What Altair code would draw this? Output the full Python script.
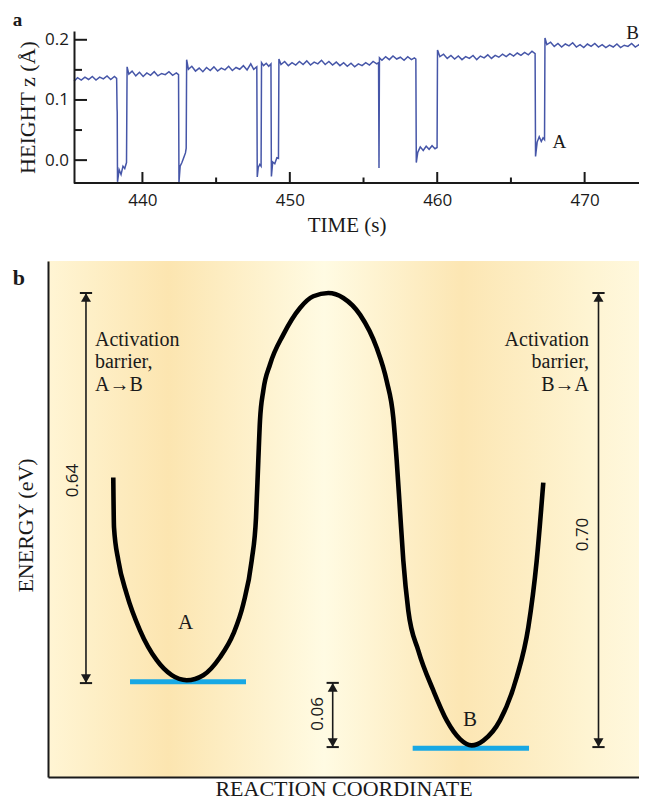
import altair as alt
import pandas as pd

SERIF = "Liberation Serif"
SANS = "Open Sans"
INK = "#1a1a1a"
TRACE_BLUE = "#4656a8"
LEVEL_BLUE = "#18a8e4"

# ---------------- panel a : height trace ----------------
trace_time = [
    435.36, 435.60, 435.85, 436.10, 436.35, 436.60, 436.85, 437.10, 437.35, 437.60, 437.85, 438.10, 438.25,
    438.28, 438.29, 438.31, 438.42, 438.55, 438.68, 438.80, 438.92,
    438.96, 439.08, 439.30, 439.55, 439.80, 440.05, 440.30, 440.55, 440.80, 441.05, 441.30, 441.55, 441.80, 442.05, 442.30, 442.45,
    442.48, 442.56, 442.68, 442.80, 442.92, 442.97,
    443.00, 443.12, 443.35, 443.60, 443.85, 444.10, 444.35, 444.60, 444.85, 445.10, 445.35, 445.60, 445.85, 446.10, 446.35, 446.60, 446.85, 447.10, 447.35, 447.55, 447.76,
    447.79, 447.86, 447.96, 448.05,
    448.08, 448.22, 448.40, 448.57, 448.72,
    448.75, 448.84, 448.98, 449.12, 449.23,
    449.26, 449.40, 449.65, 449.90, 450.15, 450.40, 450.65, 450.90, 451.15, 451.40, 451.65, 451.90, 452.15, 452.40, 452.65, 452.90, 453.15, 453.40, 453.65, 453.90, 454.15, 454.40, 454.65, 454.90, 455.15, 455.40, 455.65, 455.90, 456.02,
    456.05, 456.08,
    456.25, 456.50, 456.75, 457.00, 457.25, 457.50, 457.75, 458.00, 458.25, 458.45, 458.55,
    458.58, 458.68, 458.85, 459.05, 459.25, 459.45, 459.65, 459.85, 459.99,
    460.02, 460.18, 460.43, 460.68, 460.93, 461.18, 461.43, 461.68, 461.93, 462.18, 462.43, 462.68, 462.93, 463.18, 463.43, 463.68, 463.93, 464.18, 464.43, 464.68, 464.93, 465.18, 465.43, 465.68, 465.93, 466.18, 466.43, 466.64,
    466.67, 466.78, 466.92, 467.06, 467.18, 467.28,
    467.31, 467.44, 467.69, 467.94, 468.19, 468.44, 468.69, 468.94, 469.19, 469.44, 469.69, 469.94, 470.19, 470.44, 470.69, 470.94, 471.19, 471.44, 471.69, 471.94, 472.19, 472.44, 472.69, 472.94, 473.19, 473.44, 473.69, 473.94, 474.19, 474.30,
]
trace_height = [
    0.131, 0.137, 0.133, 0.138, 0.134, 0.139, 0.133, 0.138, 0.135, 0.140, 0.134, 0.139, 0.136,
    0.085, 0.080, -0.036, -0.016, -0.024, -0.010, -0.014, -0.004,
    0.155, 0.143, 0.148, 0.140, 0.146, 0.139, 0.145, 0.141, 0.147, 0.140, 0.144, 0.142, 0.147, 0.141, 0.145, 0.142,
    -0.037, -0.010, -0.004, 0.004, 0.012, 0.020,
    0.167, 0.151, 0.156, 0.148, 0.153, 0.147, 0.154, 0.149, 0.155, 0.148, 0.153, 0.150, 0.156, 0.149, 0.154, 0.151, 0.157, 0.150, 0.160, 0.151, 0.155,
    -0.028, -0.012, -0.007, -0.010,
    0.162, 0.157, 0.161, 0.156, 0.160,
    -0.027, -0.003, -0.006, 0.004, 0.003,
    0.168, 0.159, 0.164, 0.157, 0.162, 0.158, 0.164, 0.159, 0.165, 0.158, 0.163, 0.160, 0.166, 0.159, 0.164, 0.158, 0.163, 0.157, 0.162, 0.156, 0.161, 0.155, 0.160, 0.157, 0.162, 0.158, 0.164, 0.160, 0.162,
    -0.013, 0.170,
    0.166, 0.172, 0.167, 0.173, 0.168, 0.171, 0.166, 0.172, 0.167, 0.170, 0.168,
    -0.004, 0.013, 0.022, 0.016, 0.023, 0.018, 0.024, 0.019, 0.021,
    0.183, 0.172, 0.176, 0.169, 0.174, 0.168, 0.173, 0.167, 0.172, 0.169, 0.174, 0.167, 0.173, 0.170, 0.175, 0.169, 0.174, 0.171, 0.176, 0.172, 0.177, 0.173, 0.178, 0.174, 0.179, 0.175, 0.181, 0.177,
    0.006, 0.030, 0.039, 0.031, 0.037, 0.034,
    0.203, 0.192, 0.196, 0.189, 0.194, 0.188, 0.193, 0.190, 0.195, 0.188, 0.192, 0.187, 0.193, 0.189, 0.194, 0.188, 0.192, 0.187, 0.191, 0.188, 0.193, 0.187, 0.191, 0.189, 0.194, 0.188, 0.192, 0.189, 0.193, 0.190,
]
time_major = [440, 450, 460, 470]
time_minor = [445, 455, 465]
height_major = [0.0, 0.1, 0.2]
height_minor = [0.05, 0.15]
time_domain = [433.594, 473.689]
height_domain = [-0.038, 0.2146]
state_labels = ["A", "B"]
state_label_time = [468.28, 473.25]
state_label_height = [0.030, 0.211]

# ---------------- panel b : energy diagram ----------------
rc_domain = [0, 98.5]
energy_domain = [0, 100]
curve_x = [10.88, 11.00, 11.72, 13.12, 15.33, 18.12, 20.62, 23.12, 25.88, 28.67, 30.88, 32.55, 33.95, 34.67,
           35.05, 35.33, 35.88, 37.00, 39.22, 42.00, 44.22, 46.72, 49.22, 52.00, 54.78, 56.45, 57.55, 58.12,
           58.67, 59.22, 60.05, 61.72, 64.22, 66.45, 68.67, 70.62, 72.55, 75.33, 78.12, 80.05, 81.45, 82.55]
curve_y = [58.03, 48.36, 41.97, 35.45, 28.43, 22.63, 19.73, 18.76, 19.73, 23.21, 27.72, 33.52, 41.97, 50.29,
           61.32, 69.05, 74.85, 79.94, 85.74, 90.91, 93.17, 93.81, 92.84, 89.61, 83.17, 76.73, 69.63, 61.26,
           51.59, 41.92, 32.25, 24.51, 16.77, 10.97, 7.35, 6.13, 7.06, 10.97, 19.34, 29.01, 41.92, 57.06]
level_names = ["A", "B"]
level_x0 = [13.67, 60.78]
level_x1 = [33.00, 80.17]
level_y = [18.47, 5.57]
well_label_x = [22.95, 70.33]
well_label_y = [29.85, 10.97]
barrier_x = [6.33, 91.75, 47.45]
barrier_top = [93.8, 93.8, 18.24]
barrier_bottom = [18.2, 5.8, 5.8]
barrier_values = ["0.64", "0.70", "0.06"]
barrier_value_x = [4.12, 89.22, 45.05]
barrier_value_y = [57.45, 47.0, 12.24]
desc_left_lines = ["Activation", "barrier,", "A\u2192B"]
desc_right_lines = ["Activation", "barrier,", "B\u2192A"]
desc_line_y = [83.47, 79.17, 74.86]
desc_left_x = 7.83
desc_right_x = 90.17
bg_stops = [(0.0, "#FFF5D4"), (0.203, "#FCE5B0"), (0.467, "#FFFBE3"), (0.70, "#FCE6B3"), (0.914, "#FEF4D2"), (1.0, "#FFF8DD")]

# ================= panel a =================
xa = alt.Scale(domain=time_domain, nice=False, zero=False)
ya = alt.Scale(domain=height_domain, nice=False, zero=False)

axis_time = alt.Axis(
    values=time_major, format="d", ticks=False, tickSize=0, labelPadding=9,
    labelFont=SANS, labelFontSize=17, labelColor=INK, labelFlush=False,
    domain=False, grid=False, title="TIME (s)", titleFont=SERIF, titleFontSize=21,
    titleFontWeight="normal", titleColor=INK, titlePadding=6, titleX=298.5, zindex=1)
axis_height = alt.Axis(
    values=height_major, format=".1f", ticks=False, tickSize=0, labelPadding=5.5,
    labelFont=SANS, labelFontSize=17, labelColor=INK, domain=True, domainColor=INK,
    domainWidth=2, grid=False, offset=-26, title="HEIGHT z (\u00c5)", titleFont=SERIF,
    titleFontSize=22, titleFontWeight="normal", titleColor=INK, titlePadding=5, zindex=1)

def ax(field):
    return alt.X(field, scale=xa, axis=axis_time)

def ay(field):
    return alt.Y(field, scale=ya, axis=axis_height)

trace_df = pd.DataFrame({"time": trace_time, "height": trace_height})
trace = alt.Chart(trace_df).mark_line(color=TRACE_BLUE, strokeWidth=1.5, clip=True).encode(
    x=ax("time:Q"), y=ay("height:Q"))

base_df = pd.DataFrame({"time": [trace_time[0]], "t1": [time_domain[1]], "height": [height_domain[0]]})
base_line = alt.Chart(base_df).mark_rule(color=INK, strokeWidth=2).encode(
    x=ax("time:Q"), x2="t1:Q", y=ay("height:Q"))

xt_major = alt.Chart(pd.DataFrame({"time": time_major})).mark_rule(color=INK, strokeWidth=2).encode(
    x=ax("time:Q"), y=alt.value(152), y2=alt.value(141))
xt_minor = alt.Chart(pd.DataFrame({"time": time_minor})).mark_rule(color=INK, strokeWidth=2).encode(
    x=ax("time:Q"), y=alt.value(152), y2=alt.value(146.5))
yt_major = alt.Chart(pd.DataFrame({"height": height_major})).mark_rule(color=INK, strokeWidth=2).encode(
    y=ay("height:Q"), x=alt.value(26), x2=alt.value(39))
yt_minor = alt.Chart(pd.DataFrame({"height": height_minor})).mark_rule(color=INK, strokeWidth=2).encode(
    y=ay("height:Q"), x=alt.value(26), x2=alt.value(34))

state_df = pd.DataFrame({"label": state_labels, "time": state_label_time, "height": state_label_height})
state_text = alt.Chart(state_df).mark_text(font=SERIF, fontSize=19, color=INK, align="center", baseline="middle").encode(
    x=ax("time:Q"), y=ay("height:Q"), text="label:N")

tag_a = alt.Chart(pd.DataFrame({"tag": ["a"]})).mark_text(
    font=SERIF, fontSize=19, fontWeight="bold", color=INK, align="left", baseline="alphabetic").encode(
    x=alt.value(-35.3), y=alt.value(-5.5), text="tag:N")

# invisible layout anchor fixing the top edge of the figure
top_anchor = alt.Chart(pd.DataFrame({"k": [0]})).mark_rule(color="white", opacity=0, strokeWidth=1).encode(
    x=alt.value(100), x2=alt.value(101), y=alt.value(-24))

panel_a = alt.layer(trace, base_line, xt_major, xt_minor, yt_major, yt_minor, state_text, tag_a, top_anchor).properties(
    width=591, height=152)

# ================= panel b =================
xb = alt.Scale(domain=rc_domain, nice=False, zero=False)
yb = alt.Scale(domain=energy_domain, nice=False, zero=False)

axis_rc = alt.Axis(
    labels=False, ticks=False, tickSize=0, domain=True, domainColor=INK, domainWidth=2, grid=False,
    title="REACTION COORDINATE", titleFont=SERIF, titleFontSize=22, titleFontWeight="normal",
    titleColor=INK, titlePadding=1, zindex=1)
axis_energy = alt.Axis(
    labels=False, ticks=False, tickSize=0, domain=True, domainColor=INK, domainWidth=2, grid=False,
    title="ENERGY (eV)", titleFont=SERIF, titleFontSize=22, titleFontWeight="normal",
    titleColor=INK, titlePadding=11, titleY=264, zindex=1)

def bx(field):
    return alt.X(field, scale=xb, axis=axis_rc)

def by(field):
    return alt.Y(field, scale=yb, axis=axis_energy)

gradient = alt.LinearGradient(
    gradient="linear", x1=0, y1=0, x2=1, y2=0,
    stops=[alt.GradientStop(offset=o, color=c) for o, c in bg_stops])

bg_df = pd.DataFrame({"x": [rc_domain[0]], "x1": [rc_domain[1]], "y": [energy_domain[0]], "y1": [energy_domain[1]]})
background = alt.Chart(bg_df).mark_rect(color=gradient).encode(
    x=bx("x:Q"), x2="x1:Q", y=by("y:Q"), y2="y1:Q")

level_df = pd.DataFrame({"name": level_names, "x": level_x0, "x1": level_x1, "y": level_y})
levels = alt.Chart(level_df).mark_rule(color=LEVEL_BLUE, strokeWidth=5).encode(
    x=bx("x:Q"), x2="x1:Q", y=by("y:Q"))

curve_df = pd.DataFrame({"x": curve_x, "y": curve_y})
curve = alt.Chart(curve_df).mark_line(color="black", strokeWidth=4.6, interpolate="monotone").encode(
    x=bx("x:Q"), y=by("y:Q"))

well_df = pd.DataFrame({"name": level_names, "x": well_label_x, "y": well_label_y})
well_text = alt.Chart(well_df).mark_text(font=SERIF, fontSize=21, color=INK, align="center", baseline="middle").encode(
    x=bx("x:Q"), y=by("y:Q"), text="name:N")

bar_df = pd.DataFrame({"x": barrier_x, "y": barrier_top, "y1": barrier_bottom})
bar_line = alt.Chart(bar_df).mark_rule(color=INK, strokeWidth=1.6).encode(
    x=bx("x:Q"), y=by("y:Q"), y2="y1:Q")
cap_top = alt.Chart(bar_df).mark_point(shape="stroke", size=150, strokeWidth=2, color=INK, opacity=1).encode(
    x=bx("x:Q"), y=by("y:Q"))
cap_bot = alt.Chart(bar_df).mark_point(shape="stroke", size=150, strokeWidth=2, color=INK, opacity=1).encode(
    x=bx("x:Q"), y=by("y1:Q"))
head_top = alt.Chart(bar_df).mark_point(shape="triangle-up", size=100, filled=True, color=INK, opacity=1, yOffset=4.5).encode(
    x=bx("x:Q"), y=by("y:Q"))
head_bot = alt.Chart(bar_df).mark_point(shape="triangle-down", size=100, filled=True, color=INK, opacity=1, yOffset=-4.5).encode(
    x=bx("x:Q"), y=by("y1:Q"))

val_df = pd.DataFrame({"v": barrier_values, "x": barrier_value_x, "y": barrier_value_y})
val_text = alt.Chart(val_df).mark_text(font=SANS, fontSize=17, color=INK, angle=270, align="center", baseline="middle").encode(
    x=bx("x:Q"), y=by("y:Q"), text="v:N")

descL_df = pd.DataFrame({"line": desc_left_lines, "y": desc_line_y, "x": [desc_left_x] * 3})
descR_df = pd.DataFrame({"line": desc_right_lines, "y": desc_line_y, "x": [desc_right_x] * 3})
descL = alt.Chart(descL_df).mark_text(font=SERIF, fontSize=20, color=INK, align="left", baseline="alphabetic").encode(
    x=bx("x:Q"), y=by("y:Q"), text="line:N")
descR = alt.Chart(descR_df).mark_text(font=SERIF, fontSize=20, color=INK, align="right", baseline="alphabetic").encode(
    x=bx("x:Q"), y=by("y:Q"), text="line:N")

tag_b = alt.Chart(pd.DataFrame({"tag": ["b"]})).mark_text(
    font=SERIF, fontSize=22, fontWeight="bold", color=INK, align="left", baseline="alphabetic").encode(
    x=alt.value(-35.3), y=alt.value(24), text="tag:N")

# invisible layout anchor fixing the left edge of the figure
left_anchor = alt.Chart(pd.DataFrame({"k": [0]})).mark_rule(color="white", opacity=0, strokeWidth=1).encode(
    x=alt.value(-40), x2=alt.value(-39), y=alt.value(200))

panel_b = alt.layer(background, levels, curve, well_text, bar_line, cap_top, cap_bot, head_top, head_bot,
                    val_text, descL, descR, tag_b, left_anchor).properties(width=591, height=516)

chart = alt.vconcat(panel_a, panel_b, spacing=26).properties(
    padding={"left": 0, "top": -1, "right": -1, "bottom": 0}
).configure_view(stroke=None)

chart.save("out.html", embed_options={"renderer": "svg", "actions": False})
